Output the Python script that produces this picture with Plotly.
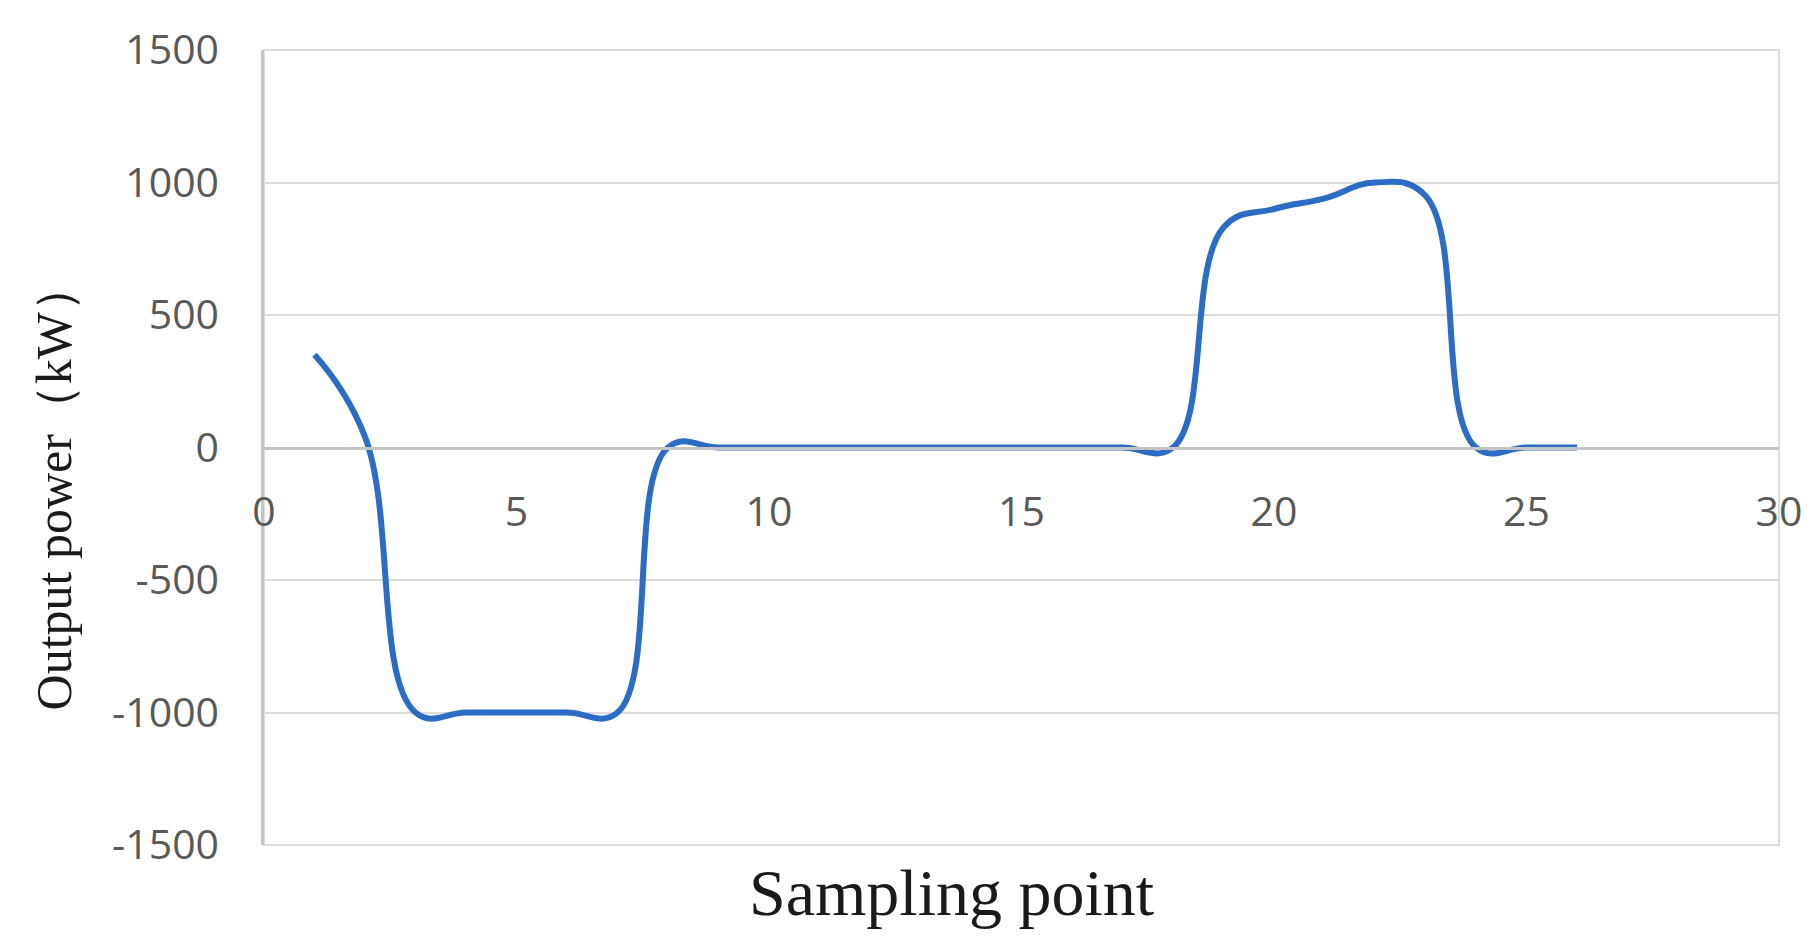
import plotly.graph_objects as go

# sampling points and output power (kW)
sampling_point = list(range(1, 27))
output_power = [350, 40, -1000, -1000, -1000, -1000, -1000, 0, 0, 0,
                0, 0, 0, 0, 0, 0, 0, 0, 830, 900,
                940, 1000, 950, 0, 0, 0]

x_ticks = [0, 5, 10, 15, 20, 25, 30]
y_ticks = [-1500, -1000, -500, 0, 500, 1000, 1500]
y_tick_text = [str(v) for v in y_ticks]  # plain hyphen like the original

tick_font = dict(family='Open Sans, Noto Sans, sans-serif', size=41, color='#595959')
title_font = dict(family='Liberation Serif, Times New Roman, serif', color='#1a1a1a')

fig = go.Figure()
fig.add_trace(go.Scatter(
    x=sampling_point, y=output_power, mode='lines',
    line=dict(color='#2b6cc4', width=6, shape='spline', smoothing=1.2),
    showlegend=False,
))

fig.update_layout(
    width=1817, height=951,
    margin=dict(l=256, r=46, t=42, b=114),
    paper_bgcolor='white', plot_bgcolor='white',
    xaxis=dict(
        range=[0, 30], tickvals=x_ticks, anchor='free', position=0.5,
        showline=True, linecolor='#c4c4c4', linewidth=2.5,
        showgrid=False, zeroline=False, ticks='', ticklabelstandoff=28,
        tickfont=tick_font,
    ),
    yaxis=dict(
        range=[-1500, 1500], tickvals=y_ticks, ticktext=y_tick_text,
        showline=True, linecolor='#c4c4c4', linewidth=2.5,
        showgrid=True, gridcolor='#dcdcdc', gridwidth=2,
        zeroline=False, ticks='', ticklabelstandoff=34,
        tickfont=tick_font,
    ),
    shapes=[dict(type='rect', xref='paper', yref='paper', x0=0, x1=1, y0=0, y1=1,
                 line=dict(color='#dcdcdc', width=2), layer='below')],
    annotations=[
        dict(text='Output power（kW）', xref='paper', yref='paper', x=-0.1386, y=0.451,
             textangle=-90, showarrow=False, xanchor='center', yanchor='middle',
             font=dict(size=50, **title_font)),
        dict(text='Sampling point', xref='paper', yref='paper', x=0.4535, y=-0.0603,
             showarrow=False, xanchor='center', yanchor='middle',
             font=dict(size=66, **title_font)),
    ],
)

fig.write_html('out.html')
